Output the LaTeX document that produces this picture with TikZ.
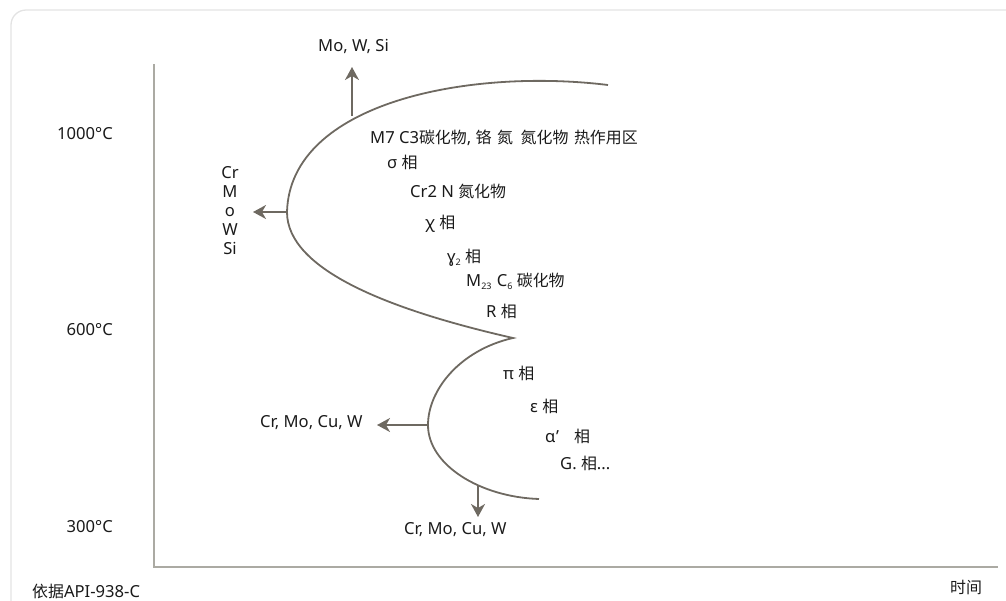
\documentclass[tikz,border=0pt]{standalone}
\usepackage{fontspec}
\setmainfont{Noto Sans}
\newfontfamily\cjkfont[Scale=0.96]{Noto Sans CJK SC}
\newcommand{\zh}[1]{{\cjkfont #1}}
\newcommand{\sbs}[1]{\raisebox{-3.5pt}{\fontsize{9}{9}\selectfont #1}}
\usetikzlibrary{arrows.meta}
\definecolor{curvecol}{HTML}{6E6961}
\definecolor{axiscol}{HTML}{ABAAA3}
\definecolor{framecol}{HTML}{E3E3E3}
\definecolor{txtcol}{HTML}{1A1A1A}
\begin{document}
\begin{tikzpicture}[x=1pt,y=-1pt,
  lbl/.style={anchor=base west, inner sep=0pt, text=txtcol, font=\fontsize{16.6}{19}\selectfont},
  lble/.style={lbl, anchor=base east},
  curveline/.style={draw=curvecol, line width=1.8pt},
  arr/.style={draw=curvecol, line width=1.8pt, -{Stealth[length=13pt,width=14pt,inset=4pt]}},
  axisline/.style={draw=axiscol, line width=1.6pt},
  frameline/.style={draw=framecol, line width=1.3pt, rounded corners=15pt}]
\useasboundingbox (0,0) rectangle (1006,600);
% frame
\draw[frameline] (11,10) rectangle (1021,640);
% axes
\coordinate (ytop) at (154,64);
\coordinate (origin) at (154,567);
\coordinate (xend) at (998,567);
\draw[axisline] (ytop) -- (origin) -- (xend);
% temperature labels
\node[lble] (t1000) at (113,139) {1000°C};
\node[lble] (t600) at (113,335) {600°C};
\node[lble] (t300) at (113,532) {300°C};
% curve key points
\coordinate (cend) at (608,85);
\coordinate (cleft) at (287,212);
\coordinate (cusp) at (513,338);
\coordinate (lleft) at (428,425);
\coordinate (lend) at (539,499);
\draw[curveline] (cend) .. controls (470,68) and (290,102) .. (cleft)
  .. controls (287,270) and (390,310) .. (cusp)
  .. controls (460,350) and (428,390) .. (lleft)
  .. controls (428,465) and (480,497) .. (lend);
% arrows
\coordinate (upbase) at (352,116);
\coordinate (uptip) at (352,67);
\coordinate (ltip) at (253,212);
\coordinate (l2tip) at (377,425);
\coordinate (dnbase) at (478,486);
\coordinate (dntip) at (478,517);
\draw[arr] (upbase) -- (uptip);
\draw[arr] (cleft) -- (ltip);
\draw[arr] (lleft) -- (l2tip);
\draw[arr] (dnbase) -- (dntip);
% element labels
\node[lbl] (mows) at (318,51) {Mo, W, Si};
\node[text=txtcol, inner sep=0pt, align=center, font=\fontsize{16.6}{19}\selectfont] (crmows) at (230,211) {Cr\\M\\o\\W\\Si};
\node[lbl] (crmo1) at (260,427) {Cr, Mo, Cu, W};
\node[lbl] (crmo2) at (404,534) {Cr, Mo, Cu, W};
% phase labels
\node[lbl] (p1) at (370,143) {M7 C3\zh{碳化物}, \zh{铬\hspace{2pt} 氮\hspace{4pt} 氮化物\hspace{2pt} 热作用区}};
\node[lbl] (p2) at (387,168) {σ \zh{相}};
\node[lbl] (p3) at (410,197) {Cr2 N \zh{氮化物}};
\node[lbl] (p4) at (425,228) {χ \zh{相}};
\node[lbl] (p5) at (447,262) {ɣ\sbs{2} \zh{相}};
\node[lbl] (p6) at (466,286) {M\sbs{23}\hspace{1pt} C\sbs{6} \zh{碳化物}};
\node[lbl] (p7) at (486,317) {R \zh{相}};
\node[lbl] (p8) at (503,379) {π \zh{相}};
\node[lbl] (p9) at (530,412) {ε \zh{相}};
\node[lbl] (p10) at (545,442) {α’\hspace{15pt}\zh{相}};
\node[lbl] (p11) at (560,469) {G. \zh{相}...};
% footer
\node[lbl] (src) at (32,597) {\zh{依据}API-938-C};
\node[lbl] (time) at (950,593) {\zh{时间}};
\end{tikzpicture}
\end{document}
